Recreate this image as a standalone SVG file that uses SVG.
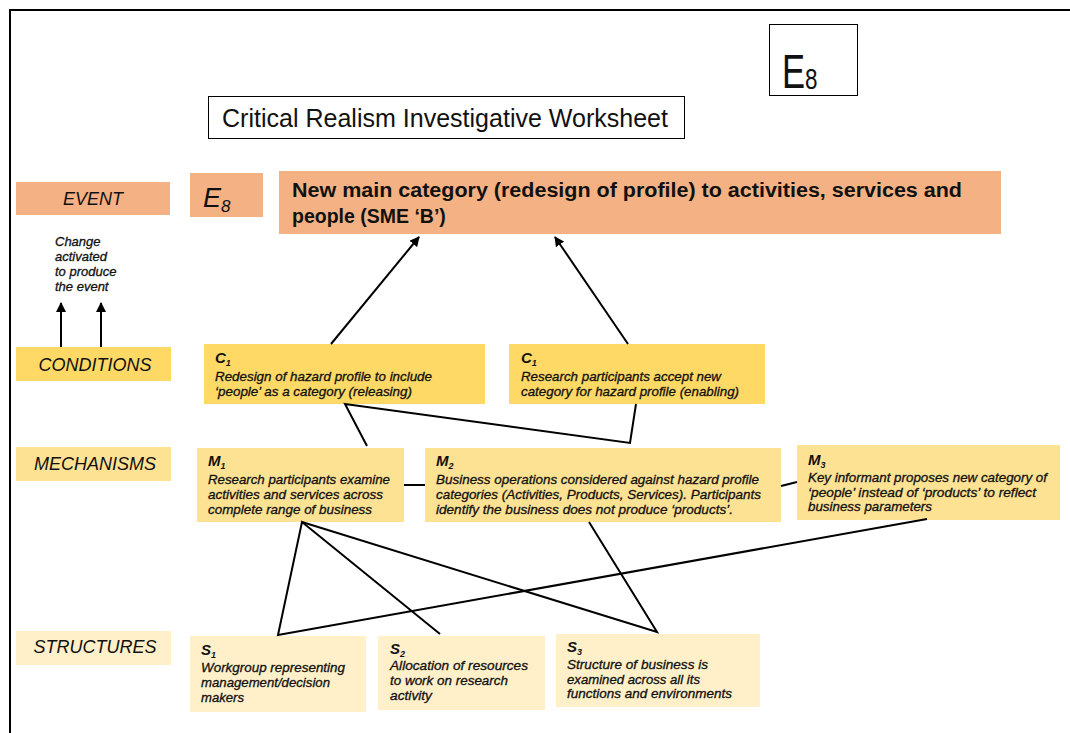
<svg xmlns="http://www.w3.org/2000/svg" width="1070" height="733" viewBox="0 0 1070 733">
  <defs>
    <marker id="arrow" viewBox="0 0 10 10" refX="9" refY="5" markerWidth="5" markerHeight="5" orient="auto" markerUnits="strokeWidth">
      <path d="M0,0 L10,5 L0,10 z" fill="#000"/>
    </marker>
  </defs>
  <style>
    text { font-family: "Liberation Sans", Arial, sans-serif; fill: #111; }
    .event { fill: #F4B183; }
    .cond { fill: #FFD966; }
    .mech { fill: #FEE294; }
    .struct { fill: #FFF0C9; }
    .side { font-size: 18px; font-style: italic; text-anchor: middle; }
    .lbl { font-size: 15px; font-style: italic; font-weight: bold; }
    .sub { font-size: 9px; font-style: italic; font-weight: bold; }
    .body { font-size: 13px; font-style: italic; stroke: #111; stroke-width: 0.3px; }
    .note { font-size: 13px; font-style: italic; stroke: #111; stroke-width: 0.3px; }
    .wire { stroke: #000; stroke-width: 2; fill: none; }
    .head { font-size: 19.5px; font-weight: bold; }
  </style>

  <rect width="1070" height="733" fill="#fff"/>
  <!-- page frame -->
  <path d="M10,733 V10 H1070" fill="none" stroke="#000" stroke-width="2"/>

  <!-- worksheet identifier -->
  <g id="tag-e8">
    <rect x="769.5" y="24.5" width="88" height="71" fill="#fff" stroke="#000" stroke-width="1"/>
    <text x="782" y="88" font-size="48" transform="translate(782 0) scale(0.72 1) translate(-782 0)">E</text>
    <text x="805" y="89" font-size="30" transform="translate(805 0) scale(0.75 1) translate(-805 0)">8</text>
  </g>

  <!-- title -->
  <g id="title">
    <rect x="208.5" y="96.5" width="476" height="42" fill="#fff" stroke="#000" stroke-width="1"/>
    <text x="222" y="127" font-size="25" textLength="446" lengthAdjust="spacingAndGlyphs">Critical Realism Investigative Worksheet</text>
  </g>

  <!-- row labels -->
  <g id="label-event">
    <rect class="event" x="16" y="182" width="154" height="33"/>
    <text class="side" x="93" y="205">EVENT</text>
  </g>
  <g id="label-conditions">
    <rect class="cond" x="16" y="347" width="155" height="34"/>
    <text class="side" x="95" y="371">CONDITIONS</text>
  </g>
  <g id="label-mechanisms">
    <rect class="mech" x="16" y="447" width="155" height="34"/>
    <text class="side" x="95" y="470">MECHANISMS</text>
  </g>
  <g id="label-structures">
    <rect class="struct" x="16" y="631" width="155" height="34"/>
    <text class="side" x="95" y="653">STRUCTURES</text>
  </g>

  <g id="note-change">
    <text class="note" x="55" y="246">Change</text>
    <text class="note" x="55" y="261">activated</text>
    <text class="note" x="55" y="276">to produce</text>
    <text class="note" x="55" y="291">the event</text>
  </g>

  <!-- event -->
  <g id="event-id">
    <rect class="event" x="190" y="173" width="73" height="44"/>
    <text x="203" y="207" font-size="27" font-style="italic">E</text>
    <text x="221" y="212" font-size="17" font-style="italic">8</text>
  </g>
  <g id="event-main">
    <rect class="event" x="279" y="171" width="722" height="63"/>
    <text class="head" x="292" y="197" textLength="670" lengthAdjust="spacingAndGlyphs">New main category (redesign of profile) to activities, services and</text>
    <text class="head" x="292" y="223">people (SME ‘B’)</text>
  </g>

  <!-- conditions -->
  <g id="c1-releasing">
    <rect class="cond" x="204" y="344" width="281" height="60"/>
    <text x="215" y="363"><tspan class="lbl">C</tspan><tspan class="sub" dy="3">1</tspan></text>
    <text class="body" x="215" y="381" textLength="217" lengthAdjust="spacingAndGlyphs">Redesign of hazard profile to include</text>
    <text class="body" x="215" y="396" textLength="197" lengthAdjust="spacingAndGlyphs">‘people’ as a category (releasing)</text>
  </g>
  <g id="c1-enabling">
    <rect class="cond" x="509" y="344" width="256" height="60"/>
    <text x="521" y="363"><tspan class="lbl">C</tspan><tspan class="sub" dy="3">1</tspan></text>
    <text class="body" x="521" y="381" textLength="200" lengthAdjust="spacingAndGlyphs">Research participants accept new</text>
    <text class="body" x="521" y="396" textLength="218" lengthAdjust="spacingAndGlyphs">category for hazard profile (enabling)</text>
  </g>

  <!-- mechanisms -->
  <g id="m1">
    <rect class="mech" x="197" y="448" width="207" height="74"/>
    <text x="208" y="466"><tspan class="lbl">M</tspan><tspan class="sub" dy="3">1</tspan></text>
    <text class="body" x="208" y="484" textLength="182" lengthAdjust="spacingAndGlyphs">Research participants examine</text>
    <text class="body" x="208" y="499" textLength="175" lengthAdjust="spacingAndGlyphs">activities and services across</text>
    <text class="body" x="208" y="514" textLength="164" lengthAdjust="spacingAndGlyphs">complete range of business</text>
  </g>
  <g id="m2">
    <rect class="mech" x="425" y="448" width="356" height="74"/>
    <text x="436" y="466"><tspan class="lbl">M</tspan><tspan class="sub" dy="3">2</tspan></text>
    <text class="body" x="436" y="484" textLength="323" lengthAdjust="spacingAndGlyphs">Business operations considered against hazard profile</text>
    <text class="body" x="436" y="499" textLength="325" lengthAdjust="spacingAndGlyphs">categories (Activities, Products, Services). Participants</text>
    <text class="body" x="436" y="514" textLength="297" lengthAdjust="spacingAndGlyphs">identify the business does not produce ‘products’.</text>
  </g>
  <g id="m3">
    <rect class="mech" x="797" y="445" width="263" height="75"/>
    <text x="808" y="465"><tspan class="lbl">M</tspan><tspan class="sub" dy="3">3</tspan></text>
    <text class="body" x="808" y="482" textLength="239" lengthAdjust="spacingAndGlyphs">Key informant proposes new category of</text>
    <text class="body" x="808" y="497" textLength="228" lengthAdjust="spacingAndGlyphs">‘people’ instead of ‘products’ to reflect</text>
    <text class="body" x="808" y="511" textLength="124" lengthAdjust="spacingAndGlyphs">business parameters</text>
  </g>

  <!-- structures -->
  <g id="s1">
    <rect class="struct" x="190" y="636" width="176" height="76"/>
    <text x="201" y="655"><tspan class="lbl">S</tspan><tspan class="sub" dy="3">1</tspan></text>
    <text class="body" x="201" y="672" textLength="144" lengthAdjust="spacingAndGlyphs">Workgroup representing</text>
    <text class="body" x="201" y="687" textLength="129" lengthAdjust="spacingAndGlyphs">management/decision</text>
    <text class="body" x="201" y="702" textLength="43" lengthAdjust="spacingAndGlyphs">makers</text>
  </g>
  <g id="s2">
    <rect class="struct" x="378" y="636" width="167" height="74"/>
    <text x="390" y="654"><tspan class="lbl">S</tspan><tspan class="sub" dy="3">2</tspan></text>
    <text class="body" x="390" y="670" textLength="138" lengthAdjust="spacingAndGlyphs">Allocation of resources</text>
    <text class="body" x="390" y="685" textLength="118" lengthAdjust="spacingAndGlyphs">to work on research</text>
    <text class="body" x="390" y="700" textLength="42" lengthAdjust="spacingAndGlyphs">activity</text>
  </g>
  <g id="s3">
    <rect class="struct" x="556" y="634" width="204" height="73"/>
    <text x="567" y="652"><tspan class="lbl">S</tspan><tspan class="sub" dy="3">3</tspan></text>
    <text class="body" x="567" y="669" textLength="141" lengthAdjust="spacingAndGlyphs">Structure of business is</text>
    <text class="body" x="567" y="684" textLength="133" lengthAdjust="spacingAndGlyphs">examined across all its</text>
    <text class="body" x="567" y="698" textLength="165" lengthAdjust="spacingAndGlyphs">functions and environments</text>
  </g>

  <!-- connectors -->
  <g id="connectors" class="wire">
    <line x1="61" y1="347" x2="61" y2="303" marker-end="url(#arrow)"/>
    <line x1="101" y1="347" x2="101" y2="303" marker-end="url(#arrow)"/>
    <line x1="331" y1="344" x2="419" y2="237" marker-end="url(#arrow)"/>
    <line x1="628" y1="344" x2="555" y2="237" marker-end="url(#arrow)"/>
    <polyline points="367,446 345,404 630,443 636,404"/>
    <line x1="404" y1="485" x2="425" y2="485"/>
    <line x1="781" y1="486" x2="797" y2="482"/>
    <polyline points="440,634 302,522 278,635 927,519"/>
    <polyline points="302,522 657,632 589,522"/>
  </g>
</svg>
